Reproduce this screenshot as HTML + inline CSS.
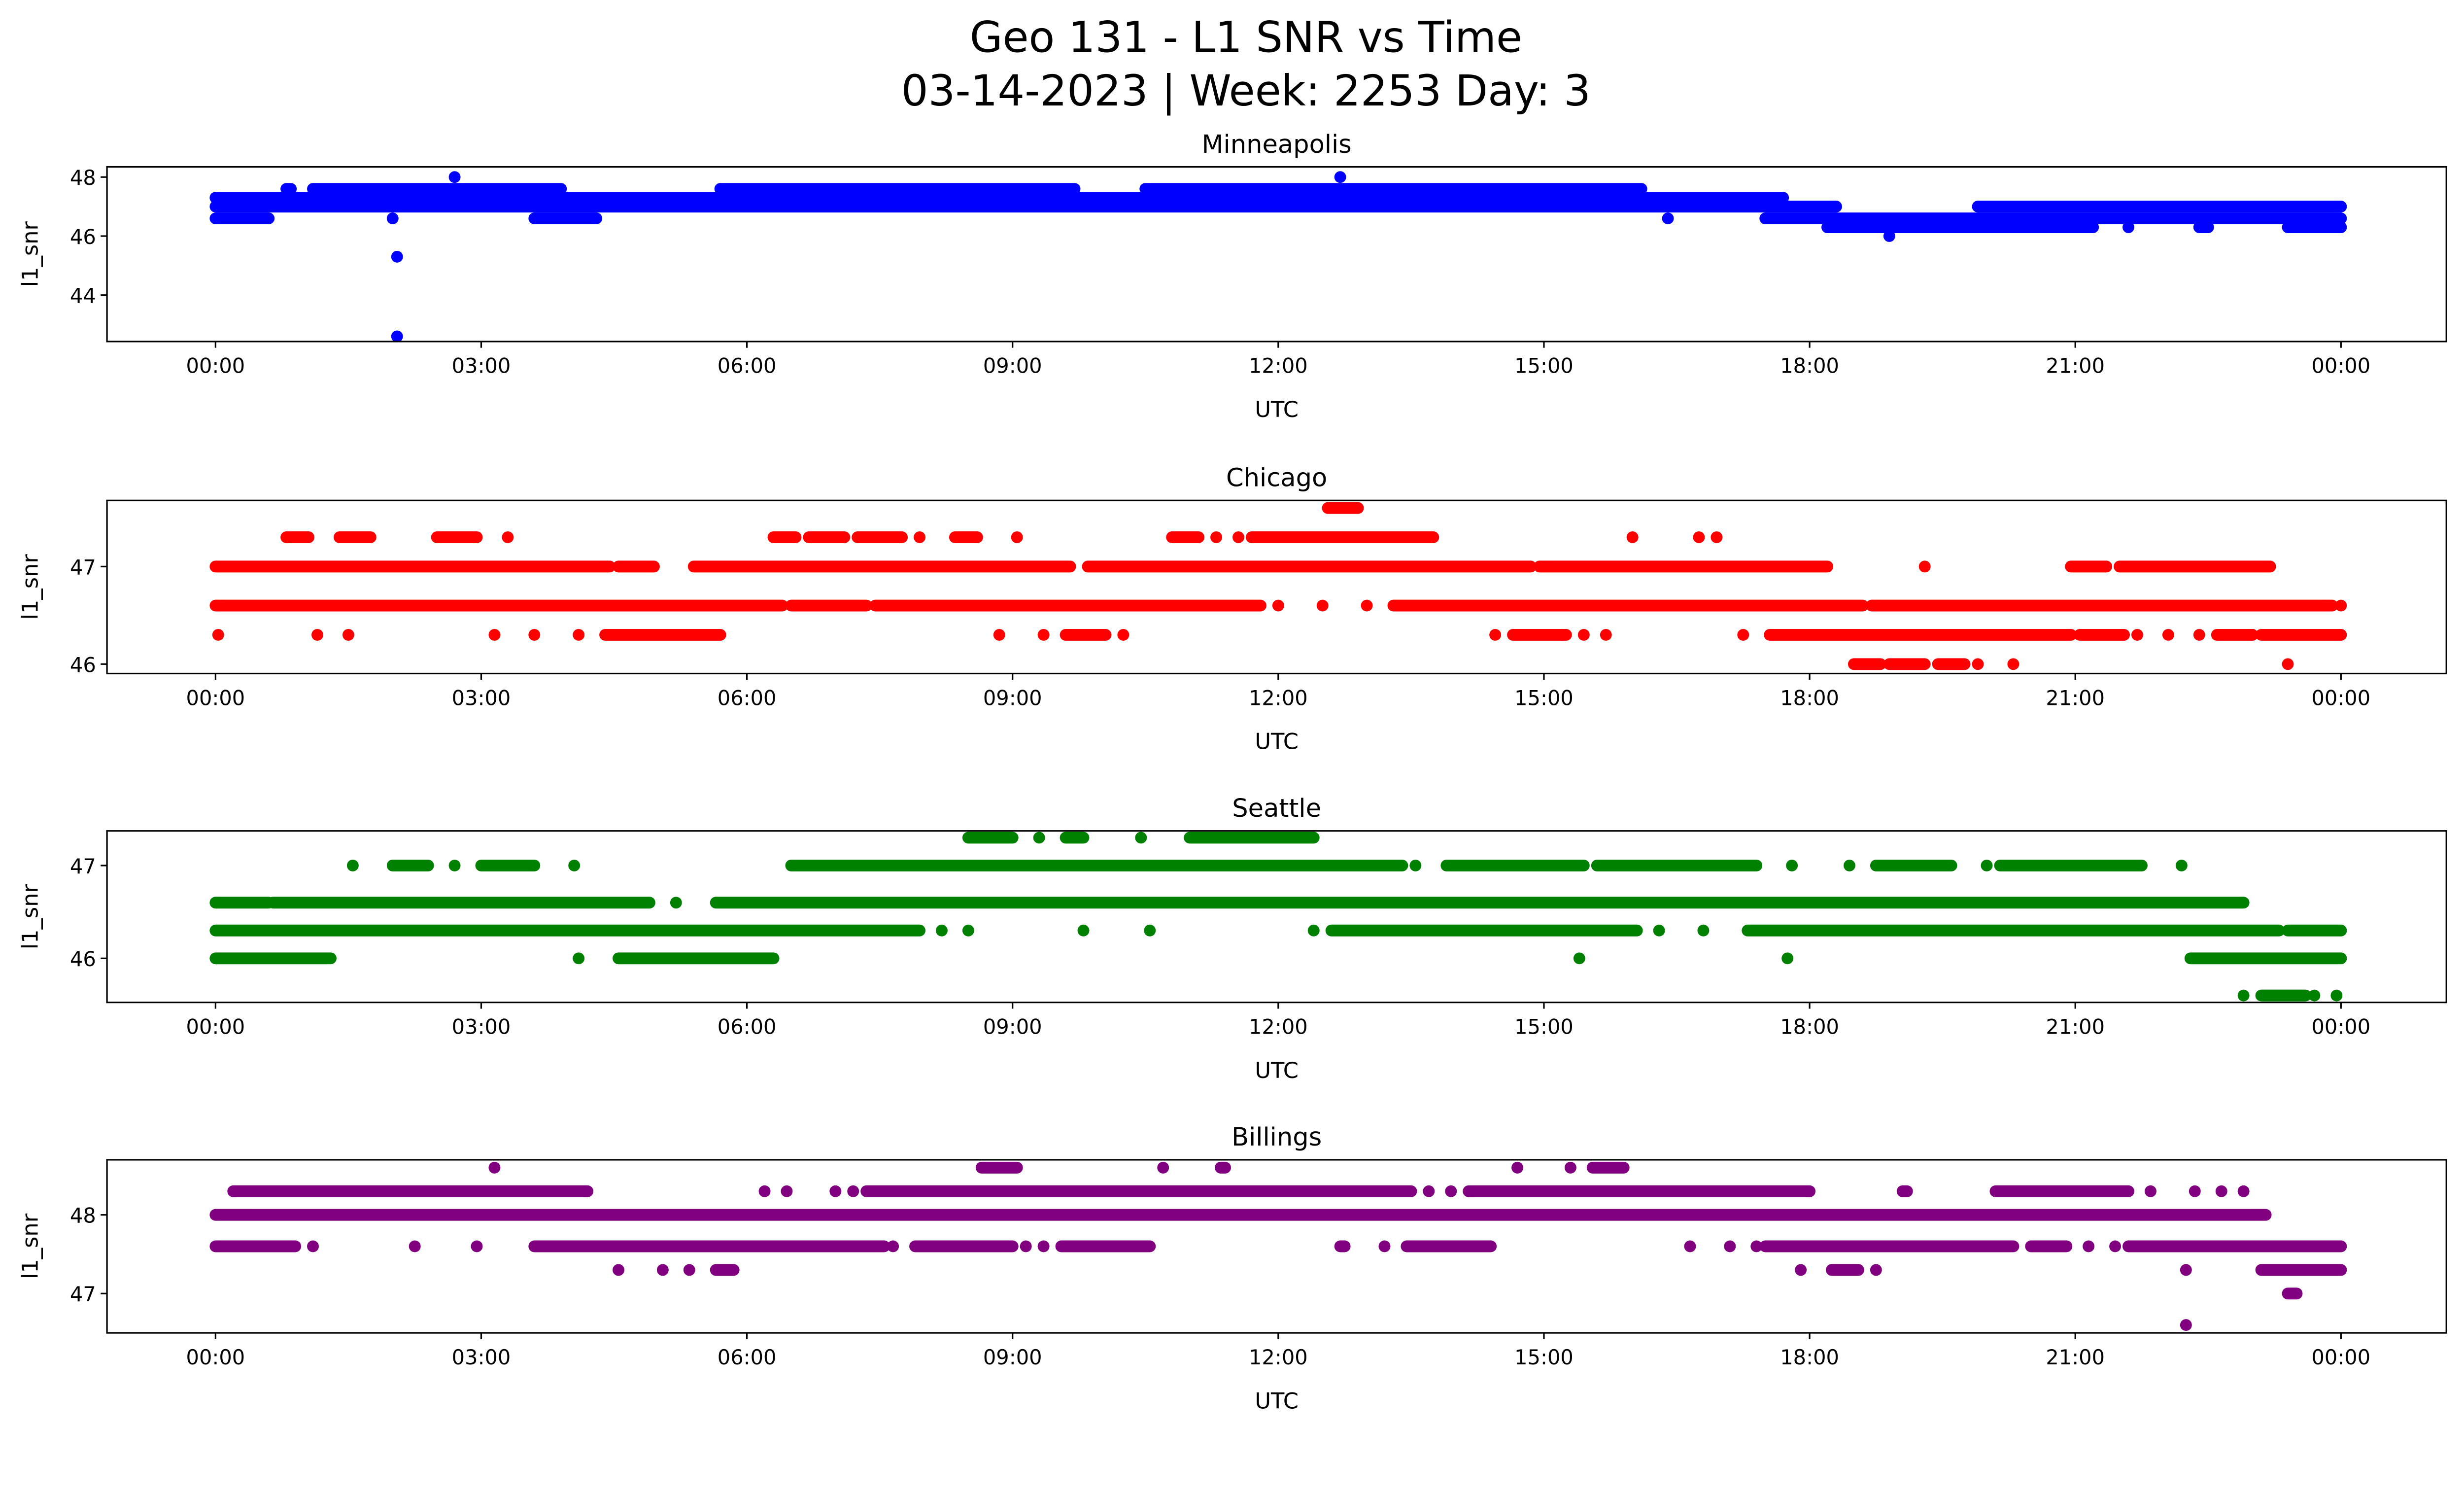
<!DOCTYPE html>
<html><head><meta charset="utf-8"><style>
html,body{margin:0;padding:0;background:#fff}
svg{display:block}
text{font-family:"DejaVu Sans","Liberation Sans",sans-serif;fill:#000}
</style></head><body>
<svg id="fig" width="5226" height="3033" viewBox="0 0 1637 950" xmlns="http://www.w3.org/2000/svg">
<text x="792" y="33" font-size="27" text-anchor="middle">Geo 131 - L1 SNR vs Time</text>
<text x="792" y="67" font-size="27" text-anchor="middle">03-14-2023 | Week: 2253 Day: 3</text>
<g id="plots"></g>
</svg>
<script>
// hours since 00:00 UTC; each run is [startHour, endHour] at a given l1_snr level
const xTickLabels = ["00:00","03:00","06:00","09:00","12:00","15:00","18:00","21:00","00:00"];
const xTickHours = [0,3,6,9,12,15,18,21,24];

const minneapolisLevels = [48.0, 47.6, 47.3, 47.0, 46.6, 46.3, 46.0, 45.3, 42.6];
const minneapolisRuns = [
 [[2.7,2.7],[12.7,12.7]],
 [[0.8,0.85],[1.1,3.9],[5.7,9.7],[10.5,16.1]],
 [[0,17.7]],
 [[0,18.3],[19.9,24]],
 [[0,0.6],[2.0,2.0],[3.6,4.3],[16.4,16.4],[17.5,24]],
 [[18.2,21.2],[21.6,21.6],[22.4,22.5],[23.4,24]],
 [[18.9,18.9]],
 [[2.05,2.05]],
 [[2.05,2.05]]
];
const minneapolisTicks = [44,46,48];

const chicagoLevels = [47.6, 47.3, 47.0, 46.6, 46.3, 46.0];
const chicagoRuns = [
 [[12.56,12.9]],
 [[0.8,1.05],[1.4,1.75],[2.5,2.95],[3.3,3.3],[6.3,6.55],[6.7,7.1],[7.25,7.75],[7.95,7.95],[8.35,8.6],[9.05,9.05],[10.8,11.1],[11.3,11.3],[11.55,11.55],[11.7,13.75],[16.0,16.0],[16.75,16.75],[16.95,16.95]],
 [[0,4.45],[4.55,4.95],[5.4,9.65],[9.85,14.85],[14.95,18.2],[19.3,19.3],[20.95,21.35],[21.5,23.2]],
 [[0,6.4],[6.5,7.35],[7.45,11.8],[12.0,12.0],[12.5,12.5],[13.0,13.0],[13.3,18.6],[18.7,23.9],[24,24]],
 [[0.03,0.03],[1.15,1.15],[1.5,1.5],[3.15,3.15],[3.6,3.6],[4.1,4.1],[4.4,5.7],[8.85,8.85],[9.35,9.35],[9.6,10.05],[10.25,10.25],[14.45,14.45],[14.65,15.25],[15.45,15.45],[15.7,15.7],[17.25,17.25],[17.55,20.95],[21.05,21.55],[21.7,21.7],[22.05,22.05],[22.4,22.4],[22.6,23.0],[23.1,24]],
 [[18.5,18.8],[18.9,19.3],[19.45,19.75],[19.9,19.9],[20.3,20.3],[23.4,23.4]]
];
const chicagoTicks = [46,47];

const seattleLevels = [47.3, 47.0, 46.6, 46.3, 46.0, 45.6];
const seattleRuns = [
 [[8.5,9.0],[9.3,9.3],[9.6,9.8],[10.45,10.45],[11.0,12.4]],
 [[1.55,1.55],[2.0,2.4],[2.7,2.7],[3.0,3.6],[4.05,4.05],[6.5,13.4],[13.55,13.55],[13.9,15.45],[15.6,17.4],[17.8,17.8],[18.45,18.45],[18.75,19.6],[20.0,20.0],[20.15,21.75],[22.2,22.2]],
 [[0,0.6],[0.65,4.9],[5.2,5.2],[5.65,22.9]],
 [[0,7.95],[8.2,8.2],[8.5,8.5],[9.8,9.8],[10.55,10.55],[12.4,12.4],[12.6,16.05],[16.3,16.3],[16.8,16.8],[17.3,23.3],[23.4,24]],
 [[0,1.3],[4.1,4.1],[4.55,6.3],[15.4,15.4],[17.75,17.75],[22.3,24]],
 [[22.9,22.9],[23.1,23.6],[23.7,23.7],[23.95,23.95]]
];
const seattleTicks = [46,47];

const billingsLevels = [48.6, 48.3, 48.0, 47.6, 47.3, 47.0, 46.6];
const billingsRuns = [
 [[3.15,3.15],[8.65,9.05],[10.7,10.7],[11.35,11.4],[14.7,14.7],[15.3,15.3],[15.55,15.9]],
 [[0.2,4.2],[6.2,6.2],[6.45,6.45],[7.0,7.0],[7.2,7.2],[7.35,13.5],[13.7,13.7],[13.95,13.95],[14.15,18.0],[19.05,19.1],[20.1,21.6],[21.85,21.85],[22.35,22.35],[22.65,22.65],[22.9,22.9]],
 [[0,23.15]],
 [[0,0.9],[1.1,1.1],[2.25,2.25],[2.95,2.95],[3.6,7.55],[7.65,7.65],[7.9,9.0],[9.15,9.15],[9.35,9.35],[9.55,10.55],[12.7,12.75],[13.2,13.2],[13.45,14.4],[16.65,16.65],[17.1,17.1],[17.4,17.4],[17.5,20.3],[20.5,20.9],[21.15,21.15],[21.45,21.45],[21.6,24]],
 [[4.55,4.55],[5.05,5.05],[5.35,5.35],[5.65,5.85],[17.9,17.9],[18.25,18.55],[18.75,18.75],[22.25,22.25],[23.1,24]],
 [[23.4,23.5]],
 [[22.25,22.25]]
];
const billingsTicks = [47,48];

const NS = "http://www.w3.org/2000/svg";
const root = document.getElementById("plots");
function mk(tag, attrs, parent){const e=document.createElementNS(NS,tag);for(const k in attrs)e.setAttribute(k,attrs[k]);(parent||root).appendChild(e);return e;}

const L=68, R=1555;
function xScale(h){return 137 + h*(1351/24);}

const panels = [
 {key:"minneapolis", title:"Minneapolis", color:"#0000ff", top:106, bottom:217, levels:minneapolisLevels, runs:minneapolisRuns, ticks:minneapolisTicks, v0:46, y0:150, k:18.75},
 {key:"chicago", title:"Chicago", color:"#ff0000", top:318, bottom:428, levels:chicagoLevels, runs:chicagoRuns, ticks:chicagoTicks, v0:46, y0:422, k:62},
 {key:"seattle", title:"Seattle", color:"#008000", top:528, bottom:637, levels:seattleLevels, runs:seattleRuns, ticks:seattleTicks, v0:46, y0:609, k:59},
 {key:"billings", title:"Billings", color:"#800080", top:737, bottom:847, levels:billingsLevels, runs:billingsRuns, ticks:billingsTicks, v0:47, y0:822, k:50}
];

panels.forEach(p=>{
  const g = mk("g",{});
  
  
  const yScale = v => p.y0 - (v-p.v0)*p.k;
  const marks = mk("g",{},g);
  
  
  p.levels.forEach((lv,i)=>{
    p.runs[i].forEach(r=>{
      const ln = mk("line",{x1:xScale(r[0]),x2:xScale(r[1]),y1:yScale(lv),y2:yScale(lv),stroke:p.color,"stroke-width":7.5,"stroke-linecap":"round"},marks);
      
      
    });
  });
  const frame = mk("rect",{x:L,y:p.top,width:R-L,height:p.bottom-p.top,fill:"none",stroke:"#000","stroke-width":1},g);
  
  
  const t = mk("text",{x:(L+R)/2,y:p.top-9,"font-size":16,"text-anchor":"middle"},g);
  t.textContent = p.title;
  
  
  xTickHours.forEach((h,i)=>{
    const x=xScale(h);
    mk("line",{x1:x,x2:x,y1:p.bottom,y2:p.bottom+4,stroke:"#000","stroke-width":1},g);
    const tl = mk("text",{x:x,y:p.bottom+20,"font-size":13,"text-anchor":"middle"},g);
    tl.textContent = xTickLabels[i];
    
    
  });
  p.ticks.forEach(v=>{
    const y=yScale(v);
    mk("line",{x1:L-4,x2:L,y1:y,y2:y,stroke:"#000","stroke-width":1},g);
    const yl = mk("text",{x:L-7,y:y+5,"font-size":13,"text-anchor":"end"},g);
    yl.textContent = v;
    
    
  });
  const xt = mk("text",{x:(L+R)/2,y:p.bottom+48,"font-size":14,"text-anchor":"middle"},g);
  xt.textContent="UTC";
  
  
  const yc=(p.top+p.bottom)/2;
  const yt = mk("text",{x:24,y:yc,"font-size":14,"text-anchor":"middle",transform:"rotate(-90 24 "+yc+")"},g);
  yt.textContent="l1_snr";
  
  
});
</script>
</body></html>
